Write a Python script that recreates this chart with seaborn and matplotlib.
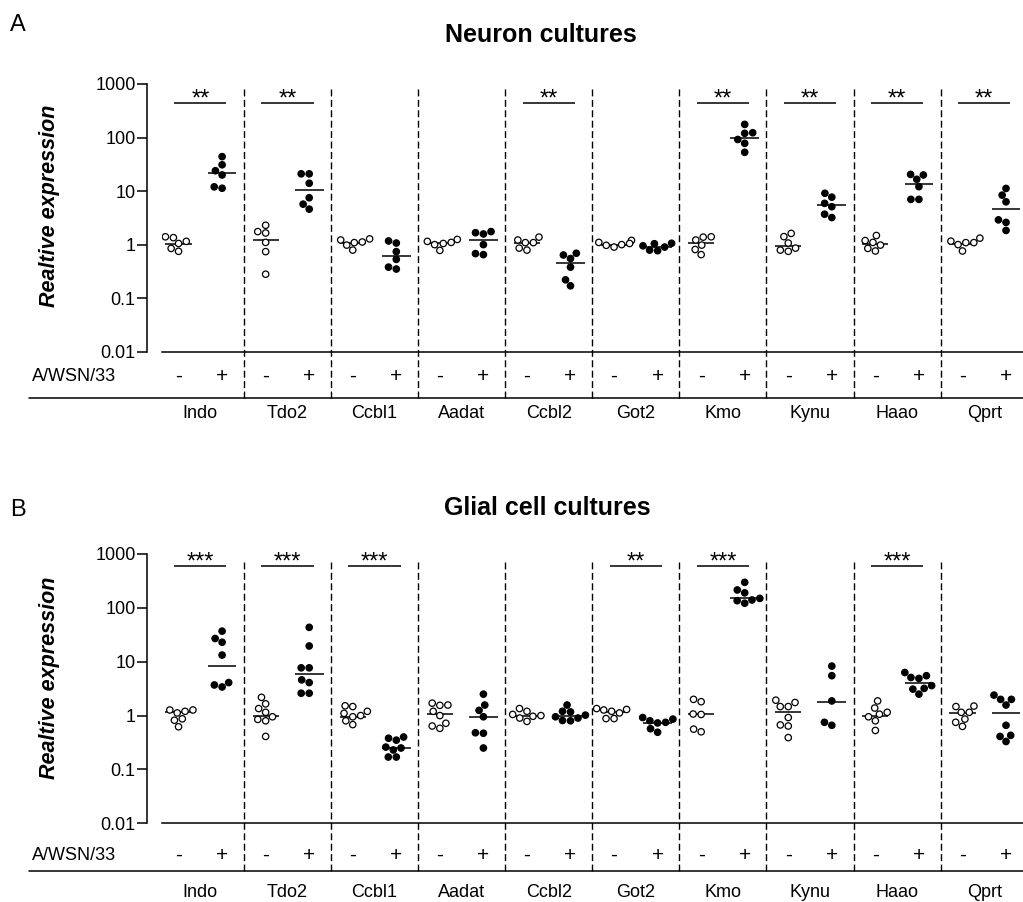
import matplotlib
matplotlib.use("Agg")
import pandas as pd
import matplotlib.pyplot as plt
import seaborn as sns
from matplotlib.ticker import NullLocator
from matplotlib.transforms import blended_transform_factory

GENES = ["Indo", "Tdo2", "Ccbl1", "Aadat", "Ccbl2", "Got2", "Kmo", "Kynu", "Haao", "Qprt"]
CONDS = ["-", "+"]
Y_TICKS = [0.01, 0.1, 1, 10, 100, 1000]
Y_TICKLABELS = ["0.01", "0.1", "1", "10", "100", "1000"]

# A: neuron cultures (mock / A/WSN/33)
NEURON_MOCK = [
    [1.4, 1.35, 1.15, 1.05, 0.85, 0.75],
    [2.3, 1.75, 1.65, 1.1, 0.74, 0.28],
    [1.28, 1.22, 1.12, 1.09, 0.98, 0.79],
    [1.25, 1.15, 1.1, 1.05, 1.0, 0.78],
    [1.38, 1.22, 1.09, 1.09, 0.86, 0.79],
    [1.2, 1.1, 1.05, 1.0, 0.97, 0.9],
    [1.4, 1.38, 1.22, 0.98, 0.81, 0.65],
    [1.62, 1.41, 1.07, 0.86, 0.79, 0.75],
    [1.48, 1.19, 1.1, 0.98, 0.85, 0.76],
    [1.32, 1.16, 1.09, 1.09, 1.0, 0.76],
]
NEURON_WSN = [
    [44, 31, 24, 20, 12, 11.3],
    [21, 21, 14, 7.5, 5.7, 4.6],
    [1.17, 1.07, 0.74, 0.53, 0.38, 0.35],
    [1.75, 1.67, 1.58, 1.0, 0.68, 0.65],
    [0.69, 0.64, 0.55, 0.38, 0.22, 0.17],
    [1.06, 1.04, 0.95, 0.9, 0.79, 0.77],
    [176, 123, 120, 92, 78, 53],
    [9.1, 7.7, 5.9, 5.1, 3.7, 3.2],
    [20.5, 20, 16.6, 12.1, 7.0, 7.0],
    [11.2, 8.4, 6.3, 2.9, 2.6, 1.84],
]
NEURON_MOCK_MEAN = [1.04, 1.22, 1.07, 1.07, 1.07, 1.0, 1.09, 0.94, 1.03, 1.03]
NEURON_WSN_MEAN = [21.7, 10.5, 0.62, 1.22, 0.45, 0.89, 99, 5.4, 13.8, 4.56]
NEURON_STARS = ["**", "**", "", "", "**", "", "**", "**", "**", "**"]

# B: glial cell cultures
GLIA_MOCK = [
    [1.27, 1.27, 1.2, 1.12, 0.87, 0.82, 0.62],
    [2.18, 1.65, 1.35, 1.15, 0.95, 0.85, 0.8, 0.41],
    [1.52, 1.47, 1.2, 1.1, 1.0, 0.95, 0.8, 0.68],
    [1.7, 1.57, 1.55, 1.2, 1.0, 0.72, 0.64, 0.58],
    [1.35, 1.2, 1.05, 1.0, 0.97, 0.9, 0.78],
    [1.35, 1.3, 1.27, 1.2, 1.12, 0.88, 0.88],
    [2.0, 1.81, 1.07, 1.05, 0.56, 0.5],
    [1.93, 1.75, 1.47, 1.47, 0.92, 0.67, 0.64, 0.39],
    [1.87, 1.38, 1.15, 1.06, 0.95, 0.8, 0.53],
    [1.5, 1.47, 1.15, 1.15, 0.86, 0.75, 0.63],
]
GLIA_WSN = [
    [37, 27, 23, 13.3, 4.1, 3.7, 3.4],
    [43.5, 19.6, 7.7, 7.7, 4.6, 4.1, 2.6, 2.6],
    [0.4, 0.38, 0.35, 0.26, 0.25, 0.23, 0.17, 0.17],
    [2.5, 1.57, 1.25, 0.95, 0.48, 0.47, 0.25],
    [1.57, 1.2, 1.17, 1.02, 0.95, 0.9, 0.81, 0.8],
    [0.92, 0.86, 0.8, 0.75, 0.73, 0.57, 0.49],
    [298, 215, 190, 150, 140, 136, 122],
    [8.3, 5.5, 1.87, 0.75, 0.66],
    [6.3, 5.5, 5.1, 4.9, 3.6, 3.2, 3.1, 2.5],
    [2.4, 2.0, 2.0, 1.57, 0.66, 0.43, 0.41, 0.33],
]
GLIA_MOCK_MEAN = [1.15, 1.0, 0.95, 1.06, 1.0, 1.17, 1.06, 1.15, 1.0, 1.1]
GLIA_WSN_MEAN = [8.45, 5.9, 0.25, 0.95, 1.0, 0.74, 155, 1.81, 3.97, 1.1]
GLIA_STARS = ["***", "***", "***", "", "", "**", "***", "", "***", ""]

ORDER = [f"{g} {c}" for g in GENES for c in CONDS]

sns.set_style("ticks")
plt.rcParams["font.family"] = ["Liberation Sans", "DejaVu Sans"]
plt.rcParams.update({
    "text.color": "black",
    "axes.labelcolor": "black",
    "axes.edgecolor": "black",
    "xtick.color": "black",
    "ytick.color": "black",
})


def make_frame(mock, wsn):
    rows = []
    for g, m, w in zip(GENES, mock, wsn):
        rows += [(f"{g} -", "-", v) for v in m]
        rows += [(f"{g} +", "+", v) for v in w]
    return pd.DataFrame(rows, columns=["pos", "cond", "value"])


def draw_panel(ax, mock, wsn, mock_mean, wsn_mean, stars, sig_y, row_y, label_y, base_y, dash_top):
    ax.set_yscale("log")
    ax.set_ylim(0.01, 1000)
    df = make_frame(mock, wsn)
    sns.swarmplot(data=df, x="pos", y="value", order=ORDER, hue="cond", hue_order=CONDS,
                  palette={"-": "white", "+": "black"}, size=4.6, edgecolor="black",
                  linewidth=0.9, legend=False, ax=ax)
    ax.set_xlim(-0.38, 19.39)
    ax.set_ylim(0.01, 1000)

    # mean lines + significance bars
    for i in range(len(GENES)):
        ax.hlines(mock_mean[i], 2 * i - 0.3, 2 * i + 0.3, color="black", lw=1.1)
        ax.hlines(wsn_mean[i], 2 * i + 1 - 0.33, 2 * i + 1 + 0.33, color="black", lw=1.1)
        if stars[i]:
            ax.hlines(sig_y, 2 * i - 0.1, 2 * i + 1.1, color="black", lw=1.1)
            ax.annotate(stars[i], xy=(2 * i + 0.5, sig_y), xytext=(0, -1.5),
                        textcoords="offset points", ha="center", va="baseline", fontsize=17)

    # dashed separators between genes
    for k in range(1, len(GENES)):
        ax.axvline(2 * k - 0.5, ymin=base_y, ymax=dash_top, color="black", lw=1,
                   ls=(0, (5, 2.5)), clip_on=False)

    trans = blended_transform_factory(ax.transData, ax.transAxes)
    for i, g in enumerate(GENES):
        ax.text(2 * i, row_y, "-", transform=trans, ha="center", va="center", fontsize=15)
        ax.text(2 * i + 1, row_y, "+", transform=trans, ha="center", va="center", fontsize=15)
        ax.text(2 * i + 0.5, label_y, g, transform=trans, ha="center", va="center", fontsize=13)
    ax.text(-0.151, row_y, "A/WSN/33", transform=ax.transAxes, ha="left", va="center", fontsize=13)
    ax.plot([-0.155, 1.0], [base_y, base_y], transform=ax.transAxes, color="black",
            lw=1.1, clip_on=False)

    ax.set_xticks([])
    ax.set_xlabel("")
    ax.set_yticks(Y_TICKS)
    ax.set_yticklabels(Y_TICKLABELS)
    ax.yaxis.set_minor_locator(NullLocator())
    ax.tick_params(axis="y", length=7.2, width=1.1, pad=1, labelsize=13, direction="out")
    ax.set_ylabel("Realtive expression", fontsize=15.5, fontweight="bold", fontstyle="italic")
    ax.spines["top"].set_visible(False)
    ax.spines["right"].set_visible(False)
    ax.spines["left"].set_position(("outward", 10.8))
    ax.spines["left"].set_bounds(0.01, 1000)
    ax.spines["left"].set_linewidth(1.1)
    ax.spines["bottom"].set_linewidth(1.1)


fig = plt.figure(figsize=(10.23, 9.02), dpi=100)
W, H = 1023, 902
ax_a = fig.add_axes([162 / W, 1 - 351.7 / H, 861 / W, 267.7 / H])
ax_b = fig.add_axes([162 / W, 1 - 823.3 / H, 861 / W, 269.3 / H])

draw_panel(ax_a, NEURON_MOCK, NEURON_WSN, NEURON_MOCK_MEAN, NEURON_WSN_MEAN, NEURON_STARS,
           sig_y=442, row_y=-0.093, label_y=-0.229, base_y=-0.174, dash_top=0.985)
draw_panel(ax_b, GLIA_MOCK, GLIA_WSN, GLIA_MOCK_MEAN, GLIA_WSN_MEAN, GLIA_STARS,
           sig_y=598, row_y=-0.118, label_y=-0.256, base_y=-0.176, dash_top=0.971)
ax_a.yaxis.set_label_coords(-0.1185, 0.544)
ax_b.yaxis.set_label_coords(-0.1185, 0.541)

fig.text(10 / W, 1 - 25 / H, "A", fontsize=17, ha="left", va="center")
fig.text(541 / W, 1 - 35 / H, "Neuron cultures", fontsize=18, fontweight="bold",
         ha="center", va="center")
fig.text(10 / W, 1 - 510 / H, "B", fontsize=17, ha="left", va="center")
fig.text(547 / W, 1 - 508 / H, "Glial cell cultures", fontsize=18, fontweight="bold",
         ha="center", va="center")

fig.savefig("out.png", dpi=100)
